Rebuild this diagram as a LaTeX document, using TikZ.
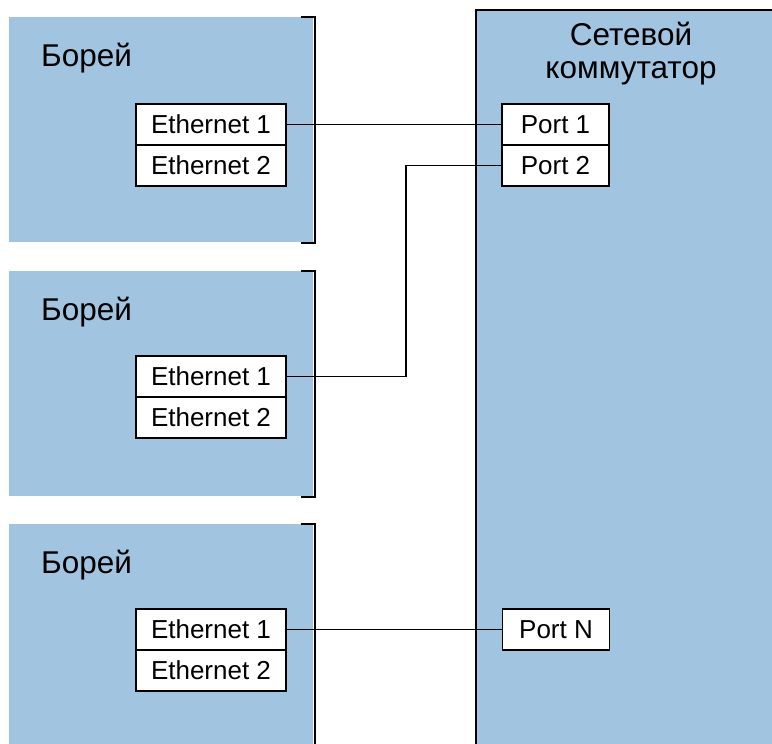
\documentclass[tikz,border=0pt]{standalone}
\usepackage{fontspec}
\setmainfont{Liberation Sans}
\usepackage{xcolor}
\usepackage{tikz}
\usetikzlibrary{positioning}
\definecolor{boxblue}{RGB}{161,196,225}

\begin{document}
\begin{tikzpicture}[x=1pt,y=-1pt,
    wire/.style={line width=1.5pt},
    ethbox/.style={draw,fill=white,line width=1.5pt,minimum width=150pt,minimum height=41pt,inner sep=0pt,outer sep=0pt,font=\fontsize{26}{30}\selectfont},
    swport/.style={ethbox,minimum width=107pt},
    title/.style={inner sep=0pt,font=\fontsize{31.5}{33}\selectfont}]
    \useasboundingbox (0,0) rectangle (772,744);
    % Network switch
    \fill[boxblue] (476,10) rectangle (780,750);
    \draw[wire] (476,750) -- (476,10) -- (780,10);
    \node[title,align=center,anchor=north] (sw) at (631,22) {Сетевой\\коммутатор};
    \node[swport] (port1) at (555.5,124.5) {Port 1};
    \node[swport,below=0pt of port1] (port2) {Port 2};
    \node[swport] (portN) at (556,629.5) {Port N};
    % Borei units
    \foreach \i/\ty/\ey in {1/17/124.5, 2/271/376.5, 3/524/629.5} {
        \fill[boxblue] (9,\ty) rectangle (313,\ty+225);
        \draw[wire] (301,\ty) -- (315,\ty) -- (315,\ty+226) -- (301,\ty+226);
        \node[title,anchor=base west] (borei\i) at (41,\ty+49) {Борей};
        \node[ethbox] (eth\i1) at (211,\ey) {Ethernet 1};
        \node[ethbox,below=0pt of eth\i1] (eth\i2) {Ethernet 2};
    }
    % Cables
    \coordinate (bend) at (406,0);
    \draw[wire] (eth11.east) -- (port1.west);
    \draw[wire] (eth21.east) -- (eth21.east -| bend) |- (port2.west);
    \draw[wire] (eth31.east) -- (portN.west);
\end{tikzpicture}
\end{document}
